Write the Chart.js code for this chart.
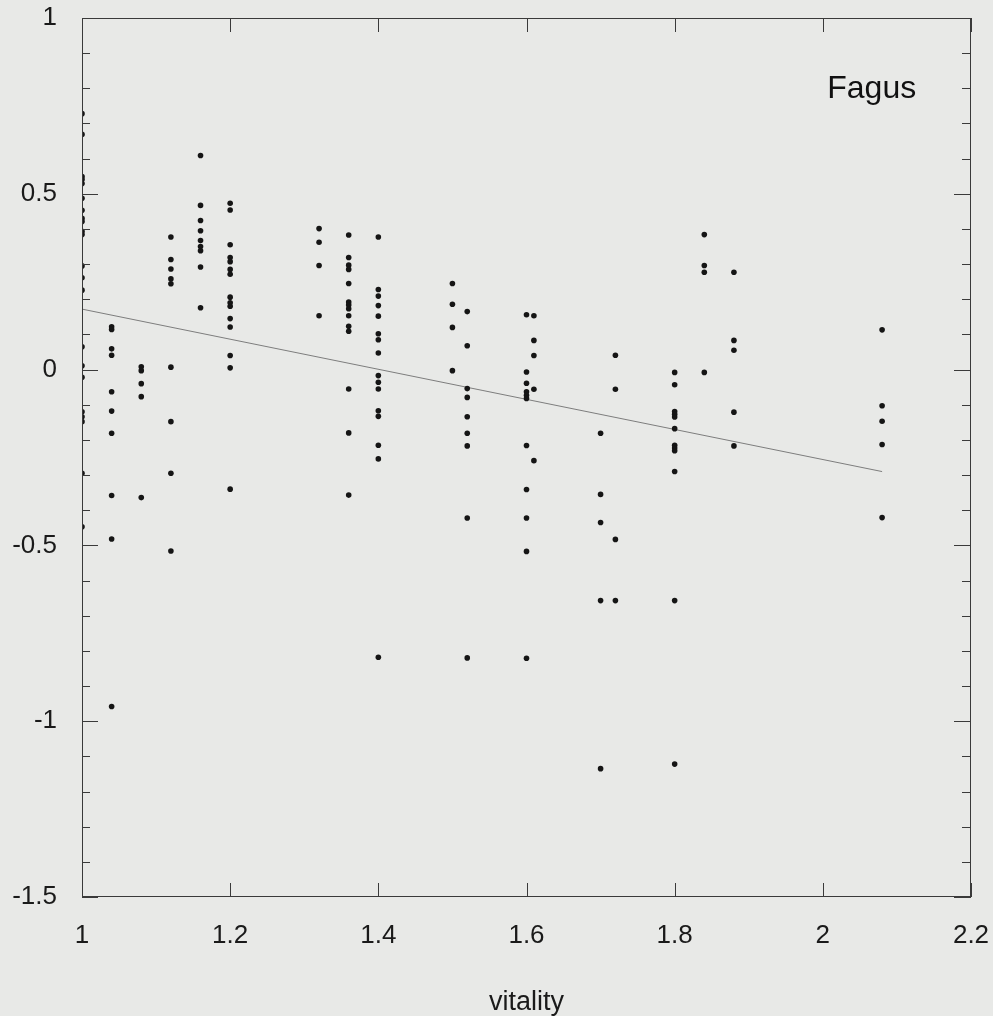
<!DOCTYPE html>
<html><head><meta charset="utf-8">
<script src="https://cdn.jsdelivr.net/npm/chart.js@4/dist/chart.umd.min.js"></script>
<style>html,body{margin:0;padding:0;background:#e8e9e7;}canvas{display:block;}</style>
</head><body>
<canvas id="c" width="993" height="1016"></canvas>
<script>
// ---- data ----
const vitality = [1.00, 1.04, 1.08, 1.12, 1.16, 1.20, 1.32, 1.36, 1.40, 1.50, 1.52, 1.60, 1.61, 1.70, 1.72, 1.80, 1.84, 1.88, 2.08];
const g100 = [0.728, 0.669, 0.549, 0.541, 0.529, 0.487, 0.453, 0.43, 0.421, 0.393, 0.384, 0.295, 0.261, 0.226, 0.065, 0.011, -0.022, -0.12, -0.134, -0.148, -0.295, -0.447];
const g104 = [0.122, 0.114, 0.059, 0.041, -0.063, -0.118, -0.181, -0.358, -0.482, -0.958];
const g108 = [0.008, -0.003, -0.04, -0.077, -0.364];
const g112 = [0.377, 0.313, 0.286, 0.258, 0.244, 0.007, -0.148, -0.295, -0.516];
const g116 = [0.609, 0.467, 0.424, 0.395, 0.367, 0.35, 0.338, 0.292, 0.176];
const g120 = [0.473, 0.454, 0.355, 0.319, 0.307, 0.285, 0.271, 0.206, 0.19, 0.18, 0.145, 0.121, 0.04, 0.005, -0.34];
const g132 = [0.401, 0.362, 0.296, 0.153];
const g136 = [0.383, 0.319, 0.297, 0.285, 0.245, 0.192, 0.184, 0.173, 0.153, 0.123, 0.109, -0.055, -0.18, -0.357];
const g140 = [0.377, 0.228, 0.209, 0.182, 0.152, 0.102, 0.085, 0.047, -0.017, -0.036, -0.055, -0.117, -0.133, -0.215, -0.254, -0.818];
const g150 = [0.245, 0.186, 0.12, -0.003];
const g152 = [0.165, 0.068, -0.054, -0.079, -0.134, -0.181, -0.217, -0.422, -0.82];
const g160 = [0.156, -0.007, -0.039, -0.063, -0.073, -0.082, -0.216, -0.341, -0.422, -0.517, -0.821];
const g161 = [0.153, 0.083, 0.04, -0.056, -0.259];
const g170 = [-0.181, -0.355, -0.435, -0.657, -1.135];
const g172 = [0.041, -0.056, -0.483, -0.657];
const g180 = [-0.008, -0.043, -0.119, -0.127, -0.135, -0.168, -0.215, -0.223, -0.231, -0.29, -0.657, -1.122];
const g184 = [0.384, 0.296, 0.277, -0.008];
const g188 = [0.277, 0.083, 0.055, -0.121, -0.217];
const g208 = [0.113, -0.103, -0.147, -0.213, -0.421];
const groups = [g100, g104, g108, g112, g116, g120, g132, g136, g140, g150, g152, g160, g161, g170, g172, g180, g184, g188, g208];

const fitX = [1.0, 2.08];
const fitY = [0.172, -0.29];

const xTicks = [1, 1.2, 1.4, 1.6, 1.8, 2, 2.2];
const xTickLabels = ['1', '1.2', '1.4', '1.6', '1.8', '2', '2.2'];
const yTicks = [-1.5, -1, -0.5, 0, 0.5, 1];
const yTickLabels = ['-1.5', '-1', '-0.5', '0', '0.5', '1'];
const yMinorStep = 0.1;
const panelLabel = 'Fagus';
const xTitle = 'vitality';

// ---- build datasets ----
const points = [];
groups.forEach((g, i) => g.forEach(v => points.push({x: vitality[i], y: v})));
const fitPoints = fitX.map((x, i) => ({x: x, y: fitY[i]}));

const FONT = '"Liberation Sans", Arial, Helvetica, sans-serif';

const framePlugin = {
  id: 'frame',
  beforeDraw(chart) {
    const ctx = chart.ctx;
    ctx.save();
    ctx.fillStyle = '#e8e9e7';
    ctx.fillRect(0, 0, chart.width, chart.height);
    ctx.restore();
  },
  afterDatasetsDraw(chart) {
    const ctx = chart.ctx;
    const a = chart.chartArea;
    const xs = chart.scales.x, ys = chart.scales.y;
    ctx.save();
    ctx.strokeStyle = '#3a3a3a';
    ctx.lineWidth = 1;
    ctx.strokeRect(a.left + 0.5, a.top + 0.5, a.right - a.left - 1, a.bottom - a.top - 1);
    ctx.beginPath();
    const n = Math.round((ys.max - ys.min) / yMinorStep);
    for (let k = 0; k <= n; k++) {
      const v = ys.min + k * yMinorStep;
      const major = Math.abs(v * 2 - Math.round(v * 2)) < 1e-6;
      const py = Math.round(ys.getPixelForValue(v)) + 0.5;
      ctx.moveTo(a.left, py); ctx.lineTo(a.left + (major ? 16 : 8), py);
      ctx.moveTo(a.right, py); ctx.lineTo(a.right - (major ? 17 : 9), py);
    }
    xTicks.forEach(v => {
      const px = Math.round(xs.getPixelForValue(v)) + 0.5;
      ctx.moveTo(px, a.top); ctx.lineTo(px, a.top + 14);
      ctx.moveTo(px, a.bottom); ctx.lineTo(px, a.bottom - 14);
    });
    ctx.stroke();
    ctx.fillStyle = '#111';
    ctx.font = '32px ' + FONT;
    ctx.textAlign = 'center';
    ctx.textBaseline = 'alphabetic';
    ctx.fillText(panelLabel, xs.getPixelForValue(2.066), 98);
    ctx.restore();
  }
};

new Chart(document.getElementById('c'), {
  type: 'scatter',
  data: {
    datasets: [
      {
        type: 'line',
        data: fitPoints,
        borderColor: '#7d7d7d',
        borderWidth: 1,
        pointRadius: 0,
        fill: false,
        order: 2
      },
      {
        data: points,
        backgroundColor: '#151515',
        borderColor: '#151515',
        borderWidth: 0,
        pointRadius: 2.8,
        order: 1
      }
    ]
  },
  options: {
    responsive: false,
    animation: false,
    devicePixelRatio: 1,
    layout: {padding: {top: 18, right: 22, left: 0, bottom: 0}},
    plugins: {legend: {display: false}, tooltip: {enabled: false}},
    scales: {
      x: {
        type: 'linear', position: 'bottom', min: 1, max: 2.2,
        grid: {display: false, drawTicks: false}, border: {display: false},
        afterFit(s) { s.height = 119; s.paddingLeft = 0; s.paddingRight = 0; },
        afterBuildTicks(s) { s.ticks = xTicks.map(v => ({value: v})); },
        ticks: {
          color: '#1a1a1a', padding: 23, maxRotation: 0, autoSkip: false,
          font: {family: FONT, size: 26},
          callback: (v, i) => xTickLabels[i]
        },
        title: {
          display: true, text: xTitle, color: '#1a1a1a',
          font: {family: FONT, size: 27, lineHeight: 1},
          padding: {top: 0, bottom: 0}
        }
      },
      y: {
        type: 'linear', position: 'left', min: -1.5, max: 1,
        grid: {display: false, drawTicks: false}, border: {display: false},
        afterFit(s) { s.width = 82; s.paddingTop = 0; s.paddingBottom = 0; },
        afterBuildTicks(s) { s.ticks = yTicks.map(v => ({value: v})); },
        ticks: {
          color: '#1a1a1a', padding: 25, autoSkip: false,
          font: {family: FONT, size: 26},
          callback: (v, i) => yTickLabels[i]
        }
      }
    }
  },
  plugins: [framePlugin]
});
</script></body></html>
